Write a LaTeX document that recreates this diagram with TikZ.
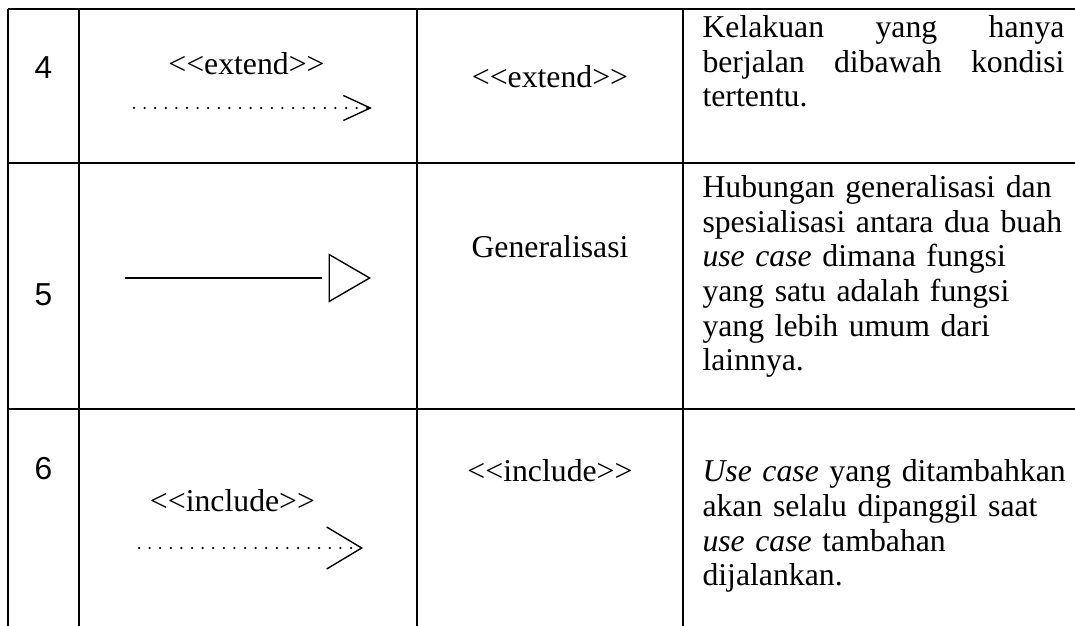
\documentclass[tikz,border=0pt]{standalone}
\usepackage{fontspec}
\setmainfont{Liberation Serif}
\newfontfamily\nofont{Liberation Sans}
\usepackage{tikz}
\usetikzlibrary{positioning}
\usetikzlibrary{arrows.meta}

\newcommand{\stereo}[1]{<\kern0pt<#1>\kern0pt>}

\tikzset{
  rule/.style={line width=0.55pt},
  num/.style={font=\nofont\fontsize{12.7}{13.8}\selectfont, inner sep=0pt, anchor=base},
  lbl/.style={font=\fontsize{12.7}{13.8}\selectfont, inner sep=0pt, anchor=base},
  desc/.style={font=\fontsize{12.7}{13.8}\selectfont, inner sep=0pt, anchor=base west, text width=150pt, align=left},
  dep/.style={line width=1pt, dash pattern=on 0pt off 4.24pt, line cap=round},
  gen/.style={line width=0.55pt, -{Triangle[open,length=17pt,width=19.6pt]}},
}

\begin{document}
\begin{tikzpicture}[x=0.4pt,y=-0.4pt]
   \useasboundingbox (0,0) rectangle (1075,626);
   % table rules
   \foreach \y in {9,163,409}
     \draw[rule] (8,\y) -- (1075,\y);
   \foreach \x in {8,79,417,683}
     \draw[rule] (\x,9) -- (\x,626);

   % row 4
   \node[num] (n4) at (43.5,79) {4};
   \node[lbl] (s4) at (246.5,75) {\stereo{extend}};
   \coordinate (x4a) at (134,108);
   \coordinate (x4b) at (372,108);
   \draw[dep, -{Straight Barb[length=10.8pt,width=10pt,line width=0.55pt]}] (x4a) -- (x4b);
   \node[lbl] (k4) at (550,88) {\stereo{extend}};
   \node[desc, text width=144.8pt] (d4) at (702,38)
     {Kelakuan\hfill yang\hfill hanya\\berjalan\hfill dibawah\hfill kondisi\\tertentu.};

   % row 5
   \node[num] (n5) at (43.5,306) {5};
   \coordinate (g5a) at (125,278);
   \coordinate (g5c) at (322,278);
   \coordinate (g5d) at (329,278);
   \coordinate (g5b) at (371,278);
   \draw[rule] (g5a) -- (g5c);
   \draw[gen] (g5d) -- (g5b);
   \node[lbl] (k5) at (550,258) {Generalisasi};
   \node[desc] (d5) at (702,198)
     {Hubungan generalisasi dan\\spesialisasi antara dua buah\\\textit{use case} dimana fungsi\\yang satu adalah fungsi\\yang lebih umum dari\\lainnya.};

   % row 6
   \node[num] (n6) at (43.5,479) {6};
   \node[lbl] (s6) at (232.5,512) {\stereo{include}};
   \coordinate (i6a) at (139,548);
   \coordinate (i6b) at (363,548);
   \draw[dep, -{Straight Barb[length=14pt,width=16.8pt,line width=0.55pt]}] (i6a) -- (i6b);
   \node[lbl] (k6) at (550,482) {\stereo{include}};
   \node[desc] (d6) at (702,482)
     {\textit{Use case} yang ditambahkan\\akan selalu dipanggil saat\\\textit{use case} tambahan\\dijalankan.};
\end{tikzpicture}
\end{document}
